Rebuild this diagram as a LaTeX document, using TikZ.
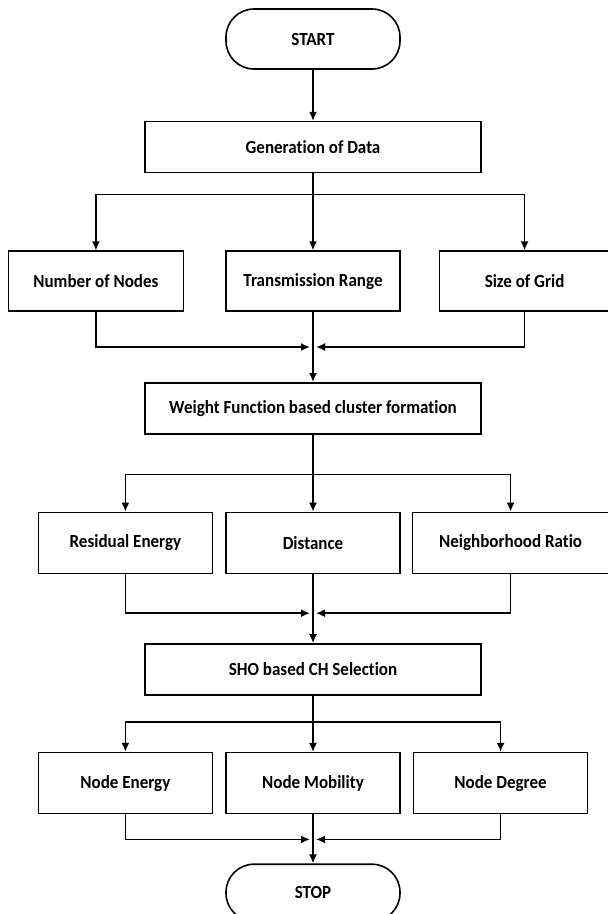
\documentclass[tikz,border=0pt]{standalone}
\usepackage{fontspec}
\setmainfont{Carlito}[FakeStretch=0.92,Ligatures={NoCommon}]
\usetikzlibrary{positioning,arrows.meta}

\begin{document}
\begin{tikzpicture}[->,>={Latex[length=9pt,width=8pt]},line width=1.6pt,x=1pt,y=1pt]
    \tikzstyle{every node}=[font=\fontsize{18.5}{20}\selectfont\bfseries]
    \tikzstyle{block}=[draw,rectangle,minimum height=60pt,minimum width=174pt,inner sep=2pt]
    \tikzstyle{wide}=[block,minimum height=51pt,minimum width=336pt]
    \tikzstyle{term}=[draw,rectangle,rounded corners=28pt,minimum height=60pt,minimum width=174pt]
    \useasboundingbox (0,0) rectangle (608,-914);

    \node[term] (start) at (313,-39) {START};
    \node[wide] (gen) [below=51pt of start] {Generation of Data};
    \node[block] (tr) [below=77pt of gen] {Transmission Range};
    \node[block,minimum width=175pt] (nn) [left=41pt of tr] {Number of Nodes};
    \node[block,minimum width=170pt] (sg) [right=38pt of tr] {Size of Grid};
    \node[wide] (wf) [below=70pt of tr] {Weight Function based cluster formation};
    \node[block,minimum height=61pt] (di) [below=77pt of wf] {Distance};
    \node[block,minimum height=61pt] (re) [left=12pt of di] {Residual Energy};
    \node[block,minimum height=61pt,minimum width=196pt] (nr) [right=11pt of di] {Neighborhood Ratio};
    \node[wide] (sho) [below=69pt of di] {SHO based CH Selection};
    \node[block,minimum height=61pt] (nm) [below=56pt of sho] {Node Mobility};
    \node[block,minimum height=61pt] (ne) [left=12pt of nm] {Node Energy};
    \node[block,minimum height=61pt] (nd) [right=12pt of nm] {Node Degree};
    \node[term,minimum height=57pt] (stop) [below=49pt of nm] {STOP};

    % split and join points
    \coordinate (s1) at ([yshift=-21pt]gen.south);
    \coordinate (j1) at ([yshift=-35pt]tr.south);
    \coordinate (s2) at ([yshift=-40pt]wf.south);
    \coordinate (j2) at ([yshift=-39pt]di.south);
    \coordinate (s3) at ([yshift=-26pt]sho.south);
    \coordinate (j3) at ([yshift=-25pt]nm.south);

    \draw (start) -- (gen);
    \draw[-] (gen) -- (s1);
    \draw (s1) -| (nn);
    \draw (s1) -- (tr);
    \draw (s1) -| (sg);
    \draw[shorten >=3pt] (nn) |- (j1);
    \draw[shorten >=3pt] (sg) |- (j1);
    \draw (tr) -- (wf);

    \draw[-] (wf) -- (s2);
    \draw (s2) -| (re);
    \draw (s2) -- (di);
    \draw (s2) -| (nr);
    \draw[shorten >=3pt] (re) |- (j2);
    \draw[shorten >=3pt] (nr) |- (j2);
    \draw (di) -- (sho);

    \draw[-] (sho) -- (s3);
    \draw (s3) -| (ne);
    \draw (s3) -- (nm);
    \draw (s3) -| (nd);
    \draw[shorten >=3pt] (ne) |- (j3);
    \draw[shorten >=3pt] (nd) |- (j3);
    \draw (nm) -- (stop);
\end{tikzpicture}
\end{document}
